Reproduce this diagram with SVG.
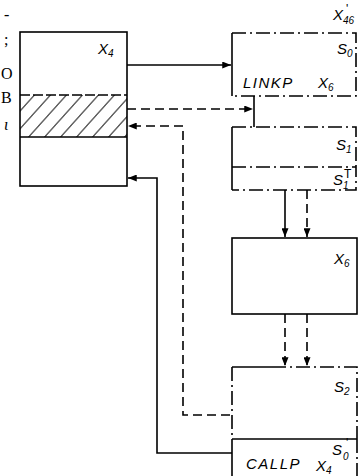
<svg xmlns="http://www.w3.org/2000/svg" width="363" height="476" viewBox="0 0 363 476">
<style>
.s{fill:none;stroke:#000;stroke-width:1.6}
.dd{fill:none;stroke:#000;stroke-width:1.6;stroke-dasharray:14 4 2 4}
.da{fill:none;stroke:#000;stroke-width:1.6;stroke-dasharray:9 5}
.t{font-family:"Liberation Sans",Arial,sans-serif;font-style:italic;font-size:15px;fill:#000}
.sub{font-size:10px}
.p{font-family:"Liberation Sans",Arial,sans-serif;font-size:12px;fill:#000}
.m{font-family:"Liberation Serif",serif;font-size:16px;fill:#000}
</style>
<defs>
<pattern id="h" width="16" height="42" patternUnits="userSpaceOnUse" patternTransform="skewX(-42)">
<line x1="8" y1="0" x2="8" y2="42" stroke="#000" stroke-width="1.2"/>
</pattern>
<marker id="a" viewBox="0 0 10 8" refX="10" refY="4" markerWidth="10" markerHeight="7" markerUnits="userSpaceOnUse" orient="auto">
<path d="M0,0 L10,4 L0,8 Z" fill="#000"/>
</marker>
</defs>
<g id="margin">
<text class="m" x="4" y="20">-</text>
<text class="m" x="4" y="45">;</text>
<text class="m" x="1" y="79">O</text>
<text class="m" x="1" y="103">B</text>
<text class="m" x="4" y="130" font-style="italic">ι</text>
</g>
<g id="x4">
<rect x="20" y="95" width="107" height="42" fill="url(#h)"/>
<rect class="s" x="20" y="32" width="107" height="154"/>
<line class="s" x1="20" y1="95" x2="127" y2="95" stroke-dasharray="10 3"/>
<line class="s" x1="20" y1="137" x2="127" y2="137"/>
<text class="t" x="98" y="54">X<tspan class="sub" dy="3">4</tspan></text>
</g>
<g id="s0">
<path class="s" d="M232,33 V96"/>
<path class="dd" d="M232,33 H356 V96 H232"/>
<text class="t" x="333" y="20">X</text>
<text class="p" x="346" y="13">'</text>
<text class="t sub" x="343" y="24">46</text>
<text class="t" x="337" y="54">S<tspan class="sub" dy="3">0</tspan></text>
<text class="t" x="243" y="88" letter-spacing="1.5">LINKP</text>
<text class="t" x="318" y="88">X<tspan class="sub" dy="3">6</tspan></text>
</g>
<g id="s1">
<path class="s" d="M232,127 V190"/>
<path class="dd" d="M232,127 H356 V167 M232,167 H356 V190 H232"/>
<text class="t" x="336" y="150">S<tspan class="sub" dy="3">1</tspan></text>
<text class="t" x="333" y="185">S</text>
<text class="p" x="344" y="178" font-size="8">T</text>
<text class="t sub" x="343" y="189">1</text>
</g>
<g id="x6">
<rect class="s" x="232" y="238" width="125" height="76"/>
<text class="t" x="334" y="264">X<tspan class="sub" dy="3">6</tspan></text>
</g>
<g id="s2">
<path class="s" d="M232,367 H272"/>
<path class="dd" d="M272,367 H357 V439 M232,367 V439"/>
<text class="t" x="334" y="392">S<tspan class="sub" dy="3">2</tspan></text>
</g>
<g id="callp">
<path class="s" d="M232,439 H357 M232,439 V476"/>
<path class="dd" d="M357,439 V476"/>
<text class="t" x="246" y="469" letter-spacing="1.5">CALLP</text>
<text class="t" x="316" y="471">X<tspan class="sub" dy="3">4</tspan></text>
<text class="t" x="332" y="455">S</text>
<text class="p" x="346" y="447">'</text>
<text class="t sub" x="343" y="460">0</text>
</g>
<g id="connectors">
<line class="s" x1="127" y1="65" x2="231" y2="65" marker-end="url(#a)"/>
<line class="s" x1="254" y1="96" x2="254" y2="127"/>
<line class="da" x1="127" y1="109" x2="253" y2="109" marker-end="url(#a)"/>
<path class="da" d="M230,415 H183 V126 H128" marker-end="url(#a)"/>
<path class="s" d="M232,453 H157 V178 H128" marker-end="url(#a)"/>
<line class="s" x1="285" y1="190" x2="285" y2="237" marker-end="url(#a)"/>
<line class="da" x1="307" y1="190" x2="307" y2="237" marker-end="url(#a)"/>
<line class="da" x1="285" y1="314" x2="285" y2="366" marker-end="url(#a)"/>
<line class="da" x1="307" y1="314" x2="307" y2="366" marker-end="url(#a)"/>
</g>
</svg>
